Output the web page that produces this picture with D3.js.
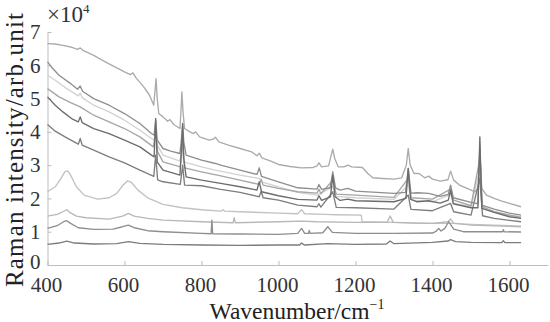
<!DOCTYPE html>
<html><head><meta charset="utf-8">
<script src="https://cdn.jsdelivr.net/npm/d3@7"></script>
<style>
html,body{margin:0;padding:0;background:#fff;}
svg{display:block;}
</style></head>
<body><svg id="c" width="550" height="322" font-family="Liberation Serif"></svg>
<script>
// ---- data: [wavenumber (cm^-1), intensity (x10^4 arb.unit)] ----
const seriesA = [[400,6.65],[420,6.64],[440,6.6],[460,6.55],[478,6.48],[485,6.52],[492,6.45],[520,6.3],[550,6.1],[580,5.92],[600,5.8],[615,5.72],[622,5.77],[630,5.62],[650,5.35],[665,5.1],[676,4.8],[679,5.2],[682,5.6],[685,5.0],[689,4.55],[700,4.45],[712,4.32],[718,4.37],[728,4.22],[744,4.1],[747,4.7],[749,5.2],[752,4.6],[756,4.1],[770,4.0],[779,3.95],[785,4.0],[795,3.85],[820,3.75],[830,3.78],[836,3.84],[845,3.7],[870,3.6],[900,3.5],[930,3.4],[944,3.28],[950,3.36],[957,3.22],[980,3.12],[1000,3.02],[1030,2.96],[1060,2.92],[1090,2.93],[1100,2.98],[1105,3.07],[1112,2.95],[1130,2.98],[1137,3.3],[1141,3.48],[1146,3.2],[1155,2.95],[1170,2.95],[1180,3.0],[1190,2.95],[1218,2.93],[1232,2.75],[1245,2.62],[1270,2.6],[1300,2.58],[1320,2.62],[1332,3.0],[1337,3.5],[1342,3.0],[1352,2.75],[1365,2.75],[1380,2.62],[1390,2.67],[1400,2.58],[1420,2.52],[1440,2.56],[1447,2.82],[1455,2.55],[1470,2.4],[1490,2.3],[1510,2.2],[1518,2.3],[1523,3.4],[1528,2.3],[1540,2.1],[1560,2.0],[1580,1.92],[1600,1.85],[1630,1.75]];
const seriesB = [[400,6.1],[410,5.95],[430,5.7],[460,5.45],[478,5.28],[485,5.38],[491,5.22],[520,5.0],[560,4.8],[600,4.55],[640,4.25],[670,3.95],[677,3.9],[681,4.35],[685,3.75],[700,3.5],[720,3.42],[744,3.35],[748,3.8],[751,4.2],[754,3.7],[760,3.3],[800,3.15],[836,3.05],[850,3.0],[900,2.85],[944,2.72],[950,2.92],[956,2.66],[1000,2.5],[1050,2.32],[1100,2.28],[1105,2.42],[1112,2.27],[1134,2.32],[1141,2.8],[1148,2.32],[1160,2.25],[1180,2.3],[1200,2.22],[1300,2.15],[1330,2.18],[1337,2.9],[1344,2.16],[1360,2.17],[1390,2.15],[1420,2.06],[1441,2.12],[1447,2.4],[1454,2.02],[1500,1.88],[1518,1.84],[1523,3.6],[1528,1.8],[1560,1.68],[1600,1.56],[1630,1.5]];
const seriesC = [[400,5.7],[420,5.55],[450,5.3],[480,5.08],[485,5.16],[490,5.03],[520,4.8],[560,4.6],[600,4.35],[640,4.05],[670,3.8],[677,3.75],[681,4.05],[685,3.6],[700,3.3],[744,3.12],[749,3.5],[754,3.1],[800,2.95],[836,2.85],[900,2.7],[950,2.6],[956,2.5],[1000,2.35],[1050,2.18],[1100,2.1],[1141,2.35],[1150,2.06],[1200,2.02],[1300,1.97],[1337,2.4],[1345,1.95],[1400,1.9],[1447,2.12],[1456,1.85],[1500,1.75],[1523,2.9],[1530,1.7],[1560,1.6],[1600,1.5],[1630,1.45]];
const seriesD = [[400,5.3],[430,5.05],[460,4.88],[485,4.75],[520,4.5],[560,4.3],[600,4.1],[640,3.85],[675,3.55],[681,4.0],[686,3.4],[700,3.1],[745,2.95],[751,3.7],[756,2.92],[800,2.8],[850,2.68],[900,2.55],[950,2.42],[955,2.58],[960,2.4],[1000,2.3],[1050,2.2],[1100,2.16],[1105,2.28],[1110,2.14],[1141,2.55],[1150,2.13],[1200,2.1],[1300,2.03],[1337,2.6],[1345,2.02],[1400,1.98],[1447,2.28],[1455,1.95],[1500,1.78],[1523,3.2],[1530,1.75],[1560,1.6],[1600,1.5],[1630,1.43]];
const seriesE = [[400,5.05],[420,4.8],[440,4.6],[465,4.38],[480,4.3],[485,4.45],[490,4.28],[520,4.1],[560,3.95],[600,3.75],[640,3.55],[670,3.3],[677,3.25],[681,4.4],[685,3.1],[700,2.85],[720,2.78],[744,2.7],[748,3.5],[751,4.25],[754,3.2],[760,2.65],[800,2.55],[850,2.45],[900,2.35],[944,2.25],[950,2.5],[956,2.2],[1000,2.08],[1050,1.97],[1100,1.95],[1105,2.08],[1112,1.94],[1135,2.05],[1141,2.7],[1147,2.05],[1160,1.94],[1180,1.98],[1200,1.93],[1300,1.9],[1331,2.0],[1337,2.9],[1343,1.98],[1360,1.9],[1390,1.93],[1420,1.86],[1441,1.95],[1447,2.25],[1454,1.84],[1500,1.72],[1518,1.72],[1523,3.85],[1528,1.7],[1560,1.58],[1600,1.45],[1630,1.4]];
const seriesF = [[400,4.22],[420,4.02],[450,3.82],[480,3.63],[485,3.8],[490,3.6],[520,3.45],[560,3.25],[600,3.07],[640,2.85],[676,2.66],[681,3.3],[686,2.56],[700,2.5],[745,2.42],[751,3.0],[756,2.4],[800,2.38],[850,2.27],[900,2.18],[950,2.05],[955,2.22],[960,2.02],[1000,1.95],[1050,1.8],[1100,1.75],[1105,1.84],[1110,1.74],[1141,2.2],[1150,1.73],[1200,1.72],[1300,1.68],[1337,2.1],[1344,1.67],[1400,1.63],[1447,1.85],[1455,1.6],[1500,1.5],[1523,2.6],[1530,1.48],[1560,1.4],[1600,1.34],[1630,1.3]];
const seriesG = [[400,2.2],[420,2.35],[435,2.6],[445,2.8],[452,2.83],[460,2.7],[475,2.35],[495,2.1],[530,1.98],[560,2.02],[580,2.15],[595,2.38],[608,2.53],[618,2.48],[635,2.25],[660,2.02],[700,1.82],[750,1.72],[800,1.66],[852,1.62],[856,1.66],[860,1.62],[900,1.6],[1000,1.56],[1050,1.54],[1060,1.66],[1068,1.54],[1120,1.52],[1150,1.51],[1215,1.5],[1217,1.3],[1300,1.28],[1400,1.25],[1450,1.25],[1500,1.22],[1630,1.17]];
const seriesH = [[400,1.47],[425,1.52],[440,1.6],[450,1.66],[458,1.58],[475,1.47],[500,1.42],[560,1.38],[595,1.47],[610,1.55],[625,1.47],[660,1.4],[700,1.35],[800,1.3],[882,1.27],[885,1.42],[888,1.27],[1000,1.3],[1060,1.32],[1100,1.3],[1200,1.28],[1282,1.28],[1290,1.47],[1298,1.28],[1350,1.26],[1400,1.25],[1440,1.3],[1447,1.38],[1455,1.26],[1500,1.2],[1630,1.15]];
const seriesI = [[400,1.1],[425,1.18],[442,1.3],[450,1.33],[460,1.25],[480,1.12],[520,1.07],[570,1.08],[595,1.15],[610,1.2],[625,1.12],[660,1.03],[700,1.0],[800,0.95],[825,0.94],[827,1.35],[829,0.94],[900,0.93],[1000,0.92],[1050,0.95],[1060,1.1],[1068,0.95],[1078,0.95],[1080,1.04],[1082,0.95],[1115,0.97],[1128,1.15],[1140,0.98],[1200,0.95],[1300,0.95],[1400,0.96],[1410,1.02],[1416,1.1],[1422,1.02],[1432,1.1],[1442,1.3],[1455,1.08],[1480,1.0],[1550,1.0],[1582,1.0],[1584,1.06],[1586,1.0],[1630,0.99]];
const seriesJ = [[400,0.62],[430,0.66],[450,0.72],[470,0.66],[520,0.63],[580,0.64],[610,0.7],[640,0.65],[700,0.62],[800,0.6],[900,0.59],[1000,0.6],[1055,0.6],[1060,0.66],[1067,0.6],[1128,0.64],[1200,0.62],[1280,0.63],[1290,0.72],[1300,0.64],[1400,0.68],[1440,0.72],[1447,0.76],[1460,0.7],[1500,0.68],[1580,0.67],[1584,0.73],[1588,0.67],[1630,0.67]];

const seriesList = [seriesG, seriesH, seriesJ, seriesI, seriesC, seriesA, seriesD, seriesF, seriesB, seriesE];
const seriesColors = ["#c2c2c2","#b8b8b8","#7c7c7c","#8e8e8e","#d2d2d2","#ababab","#a6a6a6","#7e7e7e","#8f8f8f","#6c6c6c"];

const xTicks = [400, 600, 800, 1000, 1200, 1400, 1600];
const yTicks = [0, 1, 2, 3, 4, 5, 6, 7];
const xDomain = [400, 1700];
const yDomain = [0, 7];
const xLabel = "Wavenumber/cm";
const xLabelSup = "\u22121";
const yLabel = "Raman intensity/arb.unit";
const yMultiplier = "\u00d710";
const yMultiplierSup = "4";

// ---- drawing ----
const FONT = "Liberation Serif";
const svg = d3.select("#c");
const x = d3.scaleLinear().domain(xDomain).range([47.5, 548]);
const y = d3.scaleLinear().domain(yDomain).range([265, 32]);

const axisColor = "#bdbdbd";
const textColor = "#333";

const gx = svg.append("g").attr("transform", "translate(0,265)")
  .call(d3.axisBottom(x).tickValues(xTicks).tickSizeInner(-4).tickSizeOuter(0).tickPadding(12).tickFormat(d3.format("d")));
const gy = svg.append("g").attr("transform", "translate(47.5,0)")
  .call(d3.axisLeft(y).tickValues(yTicks).tickSizeInner(-4).tickSizeOuter(0).tickPadding(7).tickFormat(d3.format("d")));
[gx, gy].forEach(g => {
  g.attr("font-family", FONT).attr("font-size", 21);
  g.select(".domain").attr("stroke", axisColor).attr("stroke-width", 1);
  g.selectAll(".tick line").attr("stroke", axisColor);
  g.selectAll(".tick text").attr("fill", textColor);
});
gx.selectAll(".tick text").attr("dx", -1.5);
// lift the "0" label a little so it clears the "400" label below it
gy.selectAll(".tick text").filter(d => d === 0).attr("y", -3.5);

const line = d3.line().x(d => x(d[0])).y(d => y(d[1]));
svg.append("g").selectAll("path").data(seriesList).join("path")
  .attr("d", line)
  .attr("fill", "none")
  .attr("stroke", (d, i) => seriesColors[i])
  .attr("stroke-width", 1.35)
  .attr("stroke-linejoin", "round");

// multiplier
const mt = svg.append("text").attr("x", 47).attr("y", 22).attr("fill", textColor)
  .attr("font-family", FONT).attr("font-size", 23);
mt.append("tspan").text(yMultiplier);
mt.append("tspan").attr("dy", -9).attr("font-size", 13).text(yMultiplierSup);

// y label
svg.append("text")
  .attr("transform", "translate(23,150) rotate(-90)")
  .attr("text-anchor", "middle")
  .attr("fill", "#222")
  .attr("font-family", FONT).attr("font-size", 25)
  .attr("textLength", 274).attr("lengthAdjust", "spacing")
  .text(yLabel);

// x label
const xl = svg.append("text").attr("x", 297).attr("y", 318.5).attr("text-anchor", "middle")
  .attr("fill", "#222").attr("font-family", FONT).attr("font-size", 23.5);
xl.append("tspan").text(xLabel);
xl.append("tspan").attr("dy", -10).attr("font-size", 14).text(xLabelSup);
</script>
</body></html>
